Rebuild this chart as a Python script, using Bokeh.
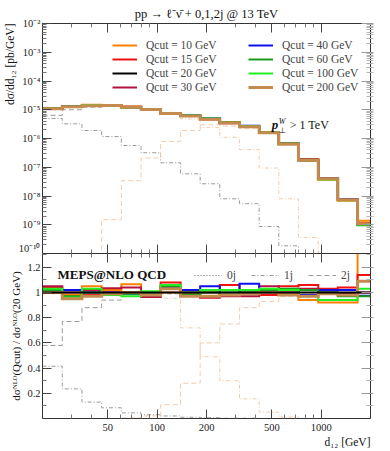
from bokeh.plotting import figure
from bokeh.layouts import column
from bokeh.models import (FixedTicker, CustomJSTickFormatter, LogAxis, LinearAxis,
                          Range1d, Legend, LegendItem, Label, Title)
from bokeh.embed import file_html
from bokeh.resources import INLINE

FONT = "Liberation Serif"

# ---------------- data ----------------
bin_edges = [20, 26.4, 34.8, 45.9, 60.5, 79.8, 105, 139, 183, 241, 318, 419,
             552, 728, 960, 1265, 1668, 2200]

qcut_values = [10, 15, 20, 30, 40, 60, 100, 200]
qcut_labels = ["Qcut = %d GeV" % q for q in qcut_values]
qcut_colors = ["#ff8000", "#ee1111", "#000000", "#b3133f",
               "#1010ee", "#1a9a1a", "#22ee22", "#c48a4e"]

# d sigma / d d12 for Qcut = 20 GeV [pb/GeV]
xsec_qcut20 = [1.08e-5, 1.33e-5, 1.41e-5, 1.41e-5, 1.23e-5, 1.04e-5, 7.2e-6,
               6.3e-6, 4.85e-6, 3.5e-6, 2.6e-6, 1.6e-6, 6.5e-7, 1.8e-7,
               4.0e-8, 7.5e-9, 1.0e-9]

# ratios to Qcut = 20 GeV
ratio_q10 = [1.00, 0.98, 1.05, 1.02, 1.065, 0.98, 1.00, 0.98, 1.00, 1.02, 1.02,
             1.00, 1.00, 0.94, 0.92, 0.92, 1.38]
ratio_q15 = [1.04, 0.955, 0.98, 1.00, 1.00, 0.97, 1.08, 1.00, 0.96, 1.06, 1.00,
             0.98, 1.05, 1.06, 1.03, 1.04, 1.14]
ratio_q20 = [1.0, 1.0, 1.0, 1.0, 1.0, 1.0, 1.0, 1.0, 1.0, 1.0, 1.0, 1.0, 1.0,
             1.0, 1.0, 1.0, 1.0]
ratio_q30 = [1.05, 1.00, 1.02, 1.035, 1.04, 0.965, 1.03, 0.99, 0.96, 0.97, 0.97,
             1.05, 1.00, 1.03, 1.00, 0.99, 1.00]
ratio_q40 = [1.00, 1.02, 1.00, 1.00, 0.99, 1.00, 1.04, 1.02, 1.05, 0.98, 1.07,
             1.00, 1.02, 0.98, 1.02, 1.02, 0.975]
ratio_q60 = [1.02, 0.97, 1.00, 0.98, 0.99, 1.00, 1.05, 0.98, 1.00, 1.00, 1.00,
             1.02, 1.03, 1.02, 1.00, 0.97, 0.97]
ratio_q100 = [1.03, 0.96, 1.03, 0.98, 0.97, 1.01, 1.06, 1.00, 1.02, 1.02, 1.02,
              1.03, 1.02, 0.97, 0.94, 0.94, 1.03]
ratio_q200 = [1.00, 0.95, 0.97, 0.99, 1.00, 0.98, 1.03, 0.97, 0.97, 0.98, 0.99,
              1.00, 0.98, 0.97, 0.99, 0.98, 1.09]
ratios = [ratio_q10, ratio_q15, ratio_q20, ratio_q30, ratio_q40, ratio_q60,
          ratio_q100, ratio_q200]

# jet-multiplicity contributions (upper panel, pb/GeV)
q20_2j = [6.4e-6, 1.0e-5, 1.23e-5, 1.33e-5, 1.2e-5, 1.02e-5, 7.1e-6, 6.2e-6,
          4.8e-6, 3.5e-6, 2.6e-6, 1.6e-6, 6.5e-7, 1.8e-7, 4.0e-8, 7.5e-9, 1.0e-9]
q20_1j = [4.97e-6, 3.24e-6, 1.9e-6, 1.17e-6, 5.7e-7, 3.2e-7, 1.43e-7, 5.9e-8,
          2.66e-8, 8.0e-9, 5.4e-9, 8.7e-10, 1.85e-10, 1e-12, 1e-12, 1e-12, 1e-12]
q200_2j = [1e-12, 1e-12, 1e-12, 1.5e-9, 3.4e-8, 2.1e-7, 7.9e-7, 1.9e-6, 3.0e-6,
           2.7e-6, 2.2e-6, 1.5e-6, 6.4e-7, 1.8e-7, 4.0e-8, 7.5e-9, 1.0e-9]
q200_1j = [1.07e-5, 1.3e-5, 1.38e-5, 1.39e-5, 1.21e-5, 1.0e-5, 6.9e-6, 4.8e-6,
           2.4e-6, 1.1e-6, 4.1e-7, 9.4e-8, 8.0e-9, 3.6e-10, 1e-12, 1e-12, 1e-12]

# jet-multiplicity fractions (lower panel)
q20_0j_frac = [0.0, 0.0, 0.0, 0.0, 0.0, 0.0, 0.0, 0.0, 0.0, 0.0, 0.0, 0.0, 0.0,
               0.0, 0.0, 0.0, 0.0]
q20_2j_frac = [0.58, 0.77, 0.88, 0.94, 0.97, 0.98, 0.99, 0.99, 1.0, 1.0, 1.0,
               1.0, 1.0, 1.0, 1.0, 1.0, 1.0]
q20_1j_frac = [0.415, 0.235, 0.13, 0.085, 0.045, 0.03, 0.02, 0.01, 0.006, 0.002,
               0.002, 0.0, 0.0, 0.0, 0.0, 0.0, 0.0]
q200_2j_frac = [0.0, 0.0, 0.0, 0.0, 0.003, 0.02, 0.11, 0.28, 0.6, 0.75, 0.88,
                0.93, 0.97, 0.99, 0.99, 1.0, 1.0]
q200_1j_frac = [0.99, 0.99, 0.99, 0.99, 0.99, 0.98, 0.955, 0.72, 0.49, 0.30,
                0.156, 0.05, 0.012, 0.0, 0.0, 0.0, 0.0]

x_ticks = [50, 100, 200, 500, 1000]
x_minor = [20, 30, 40, 60, 70, 80, 90, 300, 400, 600, 700, 800, 900, 2000]
y_ticks_up = [1e-10, 1e-9, 1e-8, 1e-7, 1e-6, 1e-5, 1e-4, 1e-3, 1e-2]
y_ticks_low = [0.2, 0.4, 0.6, 0.8, 1.0, 1.2]
y_minor_low = [0.1, 0.3, 0.5, 0.7, 0.9, 1.1, 1.3]

GRAY = "#9a9a9a"
PEACH = "#f0cdb0"

empty_fmt = CustomJSTickFormatter(code="return '';")


def stepy(v):
    return list(v) + [v[-1]]


def style_axis(ax, labels=True):
    ax.axis_line_color = "#333333"
    ax.axis_line_width = 1
    ax.major_tick_in = 9
    ax.major_tick_out = 0
    ax.minor_tick_in = 4
    ax.minor_tick_out = 0
    ax.major_tick_line_color = "#444444"
    ax.minor_tick_line_color = "#777777"
    ax.major_label_text_font = FONT
    ax.major_label_text_font_size = "10.5px"
    ax.major_label_text_color = "#222222"
    ax.major_label_standoff = 2
    ax.axis_label_text_font = FONT
    ax.axis_label_text_font_size = "11px"
    ax.axis_label_text_font_style = "normal"
    ax.axis_label_text_color = "#111111"
    ax.axis_label_standoff = 2
    if not labels:
        ax.formatter = empty_fmt
        ax.major_label_text_font_size = "0px"
        ax.major_label_standoff = 0


def right_band(ax):
    # light grey tick band just outside the right frame edge
    ax.major_tick_out = 3
    ax.minor_tick_out = 3
    ax.minor_tick_line_color = "#b5b5b5"
    ax.major_tick_line_color = "#999999"


def side_title(text, align):
    t = Title(text=text, align=align, text_font=FONT, text_font_size="11.5px",
              text_font_style="normal", text_color="#111111")
    try:
        t.standoff = 0
    except Exception:
        pass
    return t


log_fmt = CustomJSTickFormatter(code="""
const sup = {"-":"\u207b","0":"\u2070","1":"\u00b9","2":"\u00b2","3":"\u00b3",
             "4":"\u2074","5":"\u2075","6":"\u2076","7":"\u2077","8":"\u2078","9":"\u2079"};
const e = Math.round(Math.log10(tick));
return "10" + String(e).split("").map(c => sup[c]).join("");
""")
int_fmt = CustomJSTickFormatter(code="return tick.toFixed(0);")

y_minor_up = []
for k in range(2, 11):
    for m in range(2, 10):
        y_minor_up.append(m * 10.0 ** (-k))

# ---------------- upper panel ----------------
p1 = figure(width=382, height=253, x_axis_type="log", y_axis_type="log",
            x_range=Range1d(20, 2000), y_range=Range1d(1e-10, 1e-2),
            output_backend="svg", toolbar_location=None,
            min_border_left=42, min_border_right=12, min_border_top=23,
            min_border_bottom=0)
p1.outline_line_color = None
p1.xgrid.visible = False
p1.ygrid.visible = False
p1.title.text = "pp \u2192 \u2113\u207b\u03bd\u0304 + 0,1,2j @ 13 TeV"
p1.title.align = "center"
p1.title.text_font = FONT
p1.title.text_font_size = "12.5px"
p1.title.text_font_style = "normal"
p1.title.text_color = "#111111"
try:
    p1.title.standoff = 6
except Exception:
    pass

xt = FixedTicker(ticks=x_ticks, minor_ticks=x_minor)
yt = FixedTicker(ticks=y_ticks_up, minor_ticks=y_minor_up)
p1.xaxis.ticker = xt
p1.yaxis.ticker = yt
p1.yaxis.formatter = log_fmt
style_axis(p1.xaxis[0], labels=False)
style_axis(p1.yaxis[0])
ax_r = LogAxis(ticker=yt)
style_axis(ax_r, labels=False)
right_band(ax_r)
p1.add_layout(ax_r, "right")
ax_t = LogAxis(ticker=xt)
style_axis(ax_t, labels=False)
p1.add_layout(ax_t, "above")
p1.add_layout(side_title("d\u03c3/dd\u2081\u2082 [pb/GeV]", "right"), "left")

p1.step(bin_edges, stepy(q20_1j), mode="after", line_color=GRAY, line_width=1,
        line_dash="4 2 1 2")
p1.step(bin_edges, stepy(q20_2j), mode="after", line_color=GRAY, line_width=1,
        line_dash="5 3")
p1.step(bin_edges, stepy(q200_1j), mode="after", line_color=PEACH, line_width=1,
        line_dash="4 2 1 2")
p1.step(bin_edges, stepy(q200_2j), mode="after", line_color=PEACH, line_width=1,
        line_dash="5 3")

main_renderers = []
for i, (rat, col) in enumerate(zip(ratios, qcut_colors)):
    vals = [a * b for a, b in zip(xsec_qcut20, rat)]
    lw = 3 if i == 7 else 2
    r = p1.step(bin_edges, stepy(vals), mode="after", line_color=col,
                line_width=lw, line_join="miter")
    main_renderers.append(r)

leg_kw = dict(label_text_font=FONT, label_text_font_size="11.5px",
              glyph_width=25, glyph_height=14, label_height=14,
              label_standoff=9, spacing=0, padding=2,
              border_line_alpha=0, background_fill_alpha=0)
legA = Legend(items=[LegendItem(label=qcut_labels[i], renderers=[main_renderers[i]])
                     for i in range(4)], location=(68, 157), **leg_kw)
legB = Legend(items=[LegendItem(label=qcut_labels[i], renderers=[main_renderers[i]])
                     for i in range(4, 8)], location=(204, 157), **leg_kw)
p1.add_layout(legA)
p1.add_layout(legB)

ptx, pty = 500, 1.7e-6
p1.add_layout(Label(x=ptx, y=pty, text="p", text_font=FONT,
                    text_font_size="13px", text_font_style="bold italic",
                    text_color="#111111"))
p1.add_layout(Label(x=ptx, y=pty, x_offset=7, y_offset=-3, text="\u22a5",
                    text_font=FONT, text_font_size="8px", text_color="#111111"))
p1.add_layout(Label(x=ptx, y=pty, x_offset=7, y_offset=6, text="W",
                    text_font=FONT, text_font_size="8px",
                    text_font_style="italic", text_color="#111111"))
p1.add_layout(Label(x=ptx, y=pty, x_offset=18, text="> 1 TeV", text_font=FONT,
                    text_font_size="12px", text_color="#111111"))

# ---------------- lower panel ----------------
p2 = figure(width=382, height=198, x_axis_type="log",
            x_range=p1.x_range, y_range=Range1d(0, 1.31),
            output_backend="svg", toolbar_location=None,
            min_border_left=42, min_border_right=12, min_border_top=0,
            min_border_bottom=33)
p2.outline_line_color = None
p2.xgrid.visible = False
p2.ygrid.visible = False
ytl = FixedTicker(ticks=y_ticks_low, minor_ticks=y_minor_low)
p2.xaxis.ticker = xt
p2.yaxis.ticker = ytl
p2.yaxis.axis_label = "d\u03c3\u1d3a\u1d38\u1d3c(Qcut) / d\u03c3\u1d3a\u1d38\u1d3c(20 GeV)"
style_axis(p2.xaxis[0])
style_axis(p2.yaxis[0])
p2.xaxis.formatter = int_fmt
p2.xaxis.major_label_standoff = 5
ax_r2 = LinearAxis(ticker=ytl)
style_axis(ax_r2, labels=False)
right_band(ax_r2)
p2.add_layout(ax_r2, "right")
ax_t2 = LogAxis(ticker=xt)
style_axis(ax_t2, labels=False)
p2.add_layout(ax_t2, "above")
p2.add_layout(side_title("d\u2081\u2082 [GeV]", "right"), "below")

r0 = p2.step(bin_edges, stepy(q20_0j_frac), mode="after", line_color="#777777",
             line_width=1.2, line_dash="1 2")
p2.step(bin_edges, stepy(q200_1j_frac), mode="after", line_color=PEACH,
        line_width=1, line_dash="4 2 1 2")
p2.step(bin_edges, stepy(q200_2j_frac), mode="after", line_color=PEACH,
        line_width=1, line_dash="5 3")
r1 = p2.step(bin_edges, stepy(q20_1j_frac), mode="after", line_color=GRAY,
             line_width=1, line_dash="4 2 1 2")
r2 = p2.step(bin_edges, stepy(q20_2j_frac), mode="after", line_color=GRAY,
             line_width=1, line_dash="5 3")

order = [0, 1, 3, 4, 5, 6, 7, 2]
for i in order:
    lw = 3 if i == 7 else 2
    p2.step(bin_edges, stepy(ratios[i]), mode="after", line_color=qcut_colors[i],
            line_width=lw, line_join="miter")

leg2 = Legend(items=[LegendItem(label="0j", renderers=[r0]),
                     LegendItem(label="1j", renderers=[r1]),
                     LegendItem(label="2j", renderers=[r2])],
              orientation="horizontal", location=(150, 134),
              label_text_font=FONT, label_text_font_size="11.5px",
              glyph_width=28, glyph_height=14, label_height=14,
              label_standoff=5, spacing=4, padding=2,
              border_line_alpha=0, background_fill_alpha=0)
p2.add_layout(leg2)

p2.add_layout(Label(x=24.7, y=1.087, text="MEPS@NLO QCD", text_font=FONT,
                    text_font_size="13px", text_font_style="bold",
                    text_color="#111111"))

layout = column(p1, p2, spacing=0)
open("out.html", "w").write(file_html(layout, INLINE))
